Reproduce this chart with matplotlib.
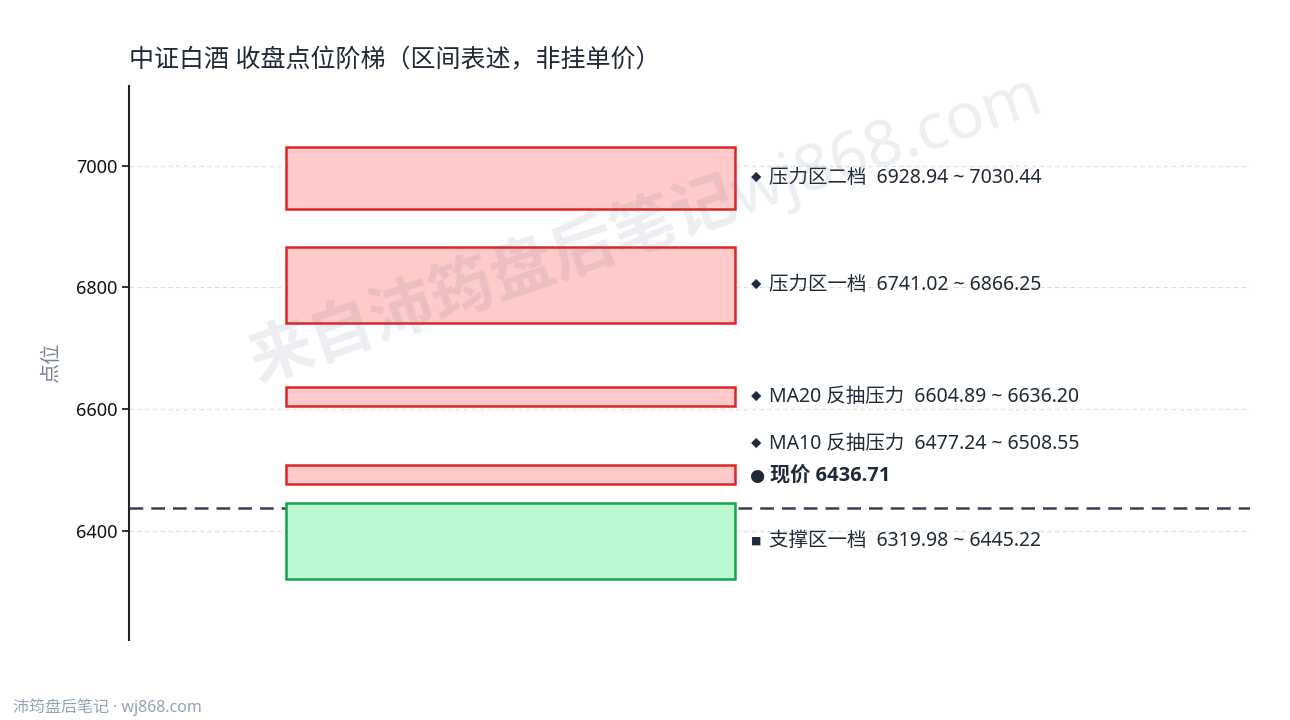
import matplotlib
matplotlib.use("Agg")
import matplotlib.pyplot as plt

plt.rcParams['font.family'] = ['Noto Sans', 'Noto Sans CJK SC', 'DejaVu Sans']

# ---- data ----
zone_names = ["压力区二档", "压力区一档", "MA20 反抽压力", "MA10 反抽压力", "支撑区一档"]
zone_low = [6928.94, 6741.02, 6604.89, 6477.24, 6319.98]
zone_high = [7030.44, 6866.25, 6636.20, 6508.55, 6445.22]
zone_kind = ["resist", "resist", "resist", "resist", "support"]
current_price = 6436.71
y_ticks = [6400, 6600, 6800, 7000]
title = "中证白酒 收盘点位阶梯（区间表述，非挂单价）"
y_label = "点位"
footer = "沛筠盘后笔记 · wj868.com"
watermark = "来自沛筠盘后笔记wj868.com"

# ---- style ----
styles = {
    "resist": dict(face="#fecaca", edge="#dc2626", marker="◆", msize=7.5),
    "support": dict(face="#bbf7d0", edge="#16a34a", marker="■", msize=7.5),
}
text_color = "#1f2937"

fig = plt.figure(figsize=(12.9, 7.2), dpi=100)
ax = fig.add_axes([0.1, 0.111, 0.869, 0.769])

box_left, box_right = 0.14, 0.541
ax.set_xlim(0, 1)
ax.set_ylim(min(zone_low) - 100, max(zone_high) + 100)

ax.axhline(current_price, color="#374151", lw=1.8, ls=(0, (5.5, 3.2)), zorder=2)

for name, lo, hi, kind in zip(zone_names, zone_low, zone_high, zone_kind):
    st = styles[kind]
    ax.bar((box_left + box_right) / 2, hi - lo, bottom=lo, width=box_right - box_left,
           color=st["face"], edgecolor=st["edge"], linewidth=1.8, zorder=3)

# label placement (nudges to avoid overlap)
label_nudge = {"MA10 反抽压力": 50}
lx = 0.555
for name, lo, hi, kind in zip(zone_names, zone_low, zone_high, zone_kind):
    st = styles[kind]
    y = (lo + hi) / 2 + label_nudge.get(name, 0)
    ax.text(lx, y, st["marker"], fontsize=st["msize"], color=text_color, va="center", ha="left",
            family=['Noto Sans CJK SC', 'DejaVu Sans'], zorder=5)
    ax.text(lx + 0.0158, y, f"{name}  {lo:.2f} ~ {hi:.2f}", fontsize=14,
            color=text_color, va="center", ha="left", zorder=5)

price_label_y = current_price + 53
ax.text(lx - 0.002, price_label_y, "●", fontsize=12.5, color=text_color, va="center", ha="left",
        family=['DejaVu Sans'], zorder=5)
ax.text(lx + 0.0165, price_label_y, f"现价 {current_price:.2f}", fontsize=14.5, fontweight="bold",
        color=text_color, va="center", ha="left",
        family=['Open Sans', 'Noto Sans CJK SC', 'DejaVu Sans'], zorder=5)

ax.set_yticks(y_ticks)
ax.set_xticks([])
ax.tick_params(axis="y", labelsize=13, length=5, width=1.2, colors="#111111")
ax.grid(axis="y", color="#dddddd", ls=(0, (4, 3)), lw=0.8, zorder=0)
ax.set_axisbelow(True)
for s in ["top", "right", "bottom"]:
    ax.spines[s].set_visible(False)
ax.spines["left"].set_linewidth(1.5)
ax.spines["left"].set_color("#222222")
ax.set_ylabel(y_label, fontsize=14.5, color="#7b8494", labelpad=10)

fig.text(0.1, 0.915, title, fontsize=18, color=text_color, ha="left", va="center")
fig.text(0.01, 0.018, footer, fontsize=11.5, color="#94a3b8", ha="left", va="center")
fig.text(0.5, 0.685, watermark, fontsize=46, fontweight="bold", color="#64748b", alpha=0.12,
         rotation=19, ha="center", va="center", zorder=10)

fig.savefig("out.png", dpi=100)
